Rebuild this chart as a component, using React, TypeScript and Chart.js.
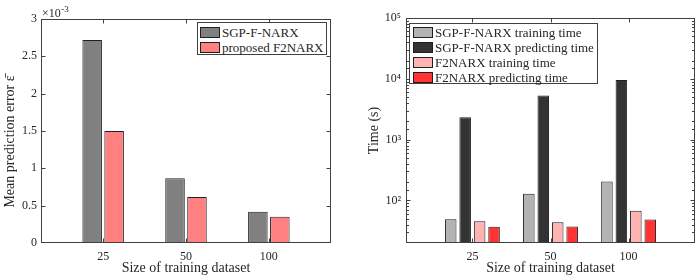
import React, { useEffect, useRef } from 'react';
import { Chart, registerables } from 'chart.js';

Chart.register(...registerables);

// ---------- data ----------
const categories = ['25', '50', '100'];

// left panel: mean prediction error
const errSGP = [0.00272, 0.000867, 0.00042];
const errF2 = [0.0015, 0.000617, 0.00035];
const errTickValues = [0, 0.0005, 0.001, 0.0015, 0.002, 0.0025, 0.003];
const errTickLabels = ['0', '0.5', '1', '1.5', '2', '2.5', '3'];

// right panel: time (s), log scale
const sgpTrain = [49, 129, 205];
const sgpPredict = [2330, 5300, 9600];
const f2Train = [45.5, 44, 68];
const f2Predict = [37, 37.3, 48.5];
const timeTickValues = [100, 1000, 10000, 100000];
const timeTickLabels = ['10²', '10³', '10⁴', '10⁵'];

const leftLegend = ['SGP-F-NARX', 'proposed F2NARX'];
const rightLegend = [
  'SGP-F-NARX training time',
  'SGP-F-NARX predicting time',
  'F2NARX training time',
  'F2NARX predicting time',
];

// ---------- style ----------
const FONT = '"Liberation Serif", "Times New Roman", serif';
const TEXT = '#262626';
const AXIS = '#404040';
const EDGE = '#1f1f1f';
const leftColors = ['#808080', '#ff8080'];
const rightColors = ['#b3b3b3', '#333333', '#ffb3b3', '#ff3333'];

const isPow10 = (v: number) => Math.abs(Math.log10(v) - Math.round(Math.log10(v))) < 1e-9;

const boxPlugin = {
  id: 'matlabBox',
  afterDraw(chart: any) {
    const { ctx, chartArea: a } = chart;
    const xs = chart.scales.x;
    const ys = chart.scales.y;
    const isLog = ys.type === 'logarithmic';
    const L = Math.round(a.left) + 0.5;
    const R = Math.round(a.right) - 0.5;
    const T = Math.round(a.top) + 0.5;
    const B = Math.round(a.bottom) - 0.5;
    ctx.save();
    ctx.strokeStyle = AXIS;
    ctx.lineWidth = 1;
    ctx.strokeRect(L, T, R - L, B - T);
    ctx.beginPath();
    xs.ticks.forEach((t: any) => {
      const px = Math.round(xs.getPixelForValue(t.value)) + 0.5;
      ctx.moveTo(px, B);
      ctx.lineTo(px, B - 4);
      ctx.moveTo(px, T);
      ctx.lineTo(px, T + 4);
    });
    ys.ticks.forEach((t: any) => {
      const py = Math.round(ys.getPixelForValue(t.value)) + 0.5;
      if (py < T - 0.1 || py > B + 0.1) return;
      const len = isLog && !isPow10(t.value) ? 2.5 : 4;
      ctx.moveTo(L, py);
      ctx.lineTo(L + len, py);
      ctx.moveTo(R, py);
      ctx.lineTo(R - len, py);
    });
    ctx.stroke();
    ctx.restore();
  },
};

const exponentPlugin = {
  id: 'exponentLabel',
  afterDraw(chart: any) {
    const { ctx, chartArea } = chart;
    ctx.save();
    ctx.fillStyle = TEXT;
    ctx.textBaseline = 'alphabetic';
    ctx.textAlign = 'left';
    ctx.font = `12px ${FONT}`;
    const x = chartArea.left + 1;
    const y = chartArea.top - 2;
    ctx.fillText('×10', x, y);
    const w = ctx.measureText('×10').width;
    ctx.font = `9px ${FONT}`;
    ctx.fillText('-3', x + w + 0.5, y - 5);
    ctx.restore();
  },
};

function makeXScale(min: number, max: number, titlePadBottom: number) {
  return {
    type: 'linear' as const,
    min,
    max,
    offset: false,
    grid: { display: false, drawTicks: false },
    border: { display: false },
    afterBuildTicks: (s: any) => {
      s.ticks = categories.map((_, i) => ({ value: i + 1 }));
    },
    afterFit: (s: any) => {
      s.height = 35;
    },
    ticks: {
      autoSkip: false,
      maxRotation: 0,
      padding: 7,
      color: TEXT,
      font: { family: FONT, size: 12 },
      callback: (v: any) => categories[Math.round(Number(v)) - 1] ?? '',
    },
    title: {
      display: true,
      text: 'Size of training dataset',
      color: TEXT,
      font: { family: FONT, size: 14 },
      padding: { top: 0, bottom: titlePadBottom },
    },
  };
}

function ErrorChart() {
  const ref = useRef<HTMLCanvasElement | null>(null);
  useEffect(() => {
    if (!ref.current) return;
    const chart = new Chart(ref.current, {
      type: 'bar',
      data: {
        datasets: [
          {
            label: leftLegend[0],
            data: errSGP.map((y, i) => ({ x: i + 1, y })),
            backgroundColor: leftColors[0],
            borderColor: EDGE,
            borderWidth: 1,
            borderSkipped: false,
          },
          {
            label: leftLegend[1],
            data: errF2.map((y, i) => ({ x: i + 1, y })),
            backgroundColor: leftColors[1],
            borderColor: EDGE,
            borderWidth: 1,
            borderSkipped: false,
          },
        ],
      },
      options: {
        responsive: false,
        animation: false,
        events: [],
        categoryPercentage: 0.53,
        barPercentage: 0.89,
        layout: { padding: { left: 0, top: 19, right: 19, bottom: 0 } },
        plugins: { legend: { display: false }, tooltip: { enabled: false } },
        scales: {
          x: makeXScale(0.25, 3.75, 1.6),
          y: {
            type: 'linear',
            min: 0,
            max: 0.003,
            grid: { display: false, drawTicks: false },
            border: { display: false },
            afterBuildTicks: (s: any) => {
              s.ticks = errTickValues.map((v) => ({ value: v }));
            },
            afterFit: (s: any) => {
              s.width = 41;
            },
            ticks: {
              autoSkip: false,
              padding: 4,
              color: TEXT,
              font: { family: FONT, size: 12 },
              callback: (v: any) => {
                const i = errTickValues.findIndex((t) => Math.abs(t - Number(v)) < 1e-9);
                return i >= 0 ? errTickLabels[i] : '';
              },
            },
            title: {
              display: true,
              text: 'Mean prediction error ε̄\u2002\u2002\u2002',
              color: TEXT,
              font: { family: FONT, size: 14 },
              padding: { top: 1.6, bottom: 0 },
            },
          },
        },
      } as any,
      plugins: [boxPlugin, exponentPlugin],
    });
    return () => chart.destroy();
  }, []);
  return <canvas ref={ref} width={350} height={278} />;
}

function TimeChart() {
  const ref = useRef<HTMLCanvasElement | null>(null);
  useEffect(() => {
    if (!ref.current) return;
    const series = [sgpTrain, sgpPredict, f2Train, f2Predict];
    const chart = new Chart(ref.current, {
      type: 'bar',
      data: {
        datasets: series.map((vals, k) => ({
          label: rightLegend[k],
          data: vals.map((y, i) => ({ x: i + 1, y })),
          backgroundColor: rightColors[k],
          borderColor: EDGE,
          borderWidth: 1,
          borderSkipped: false,
        })),
      },
      options: {
        responsive: false,
        animation: false,
        events: [],
        categoryPercentage: 0.74,
        barPercentage: 0.8,
        layout: { padding: { left: 0, top: 18, right: 5, bottom: 0 } },
        plugins: { legend: { display: false }, tooltip: { enabled: false } },
        scales: {
          x: makeXScale(0.15, 3.85, 1.6),
          y: {
            type: 'logarithmic',
            min: 20,
            max: 100000,
            grid: { display: false, drawTicks: false },
            border: { display: false },
            afterFit: (s: any) => {
              s.width = 56;
            },
            ticks: {
              autoSkip: false,
              padding: 5,
              color: TEXT,
              font: { family: FONT, size: 12 },
              callback: (v: any) => {
                const i = timeTickValues.findIndex((t) => Math.abs(t - Number(v)) < 1e-6);
                return i >= 0 ? timeTickLabels[i] : '';
              },
            },
            title: {
              display: true,
              text: 'Time (s)',
              color: TEXT,
              font: { family: FONT, size: 14 },
              padding: { top: 15.6, bottom: 0 },
            },
          },
        },
      } as any,
      plugins: [boxPlugin],
    });
    return () => chart.destroy();
  }, []);
  return <canvas ref={ref} width={350} height={278} />;
}

function Legend(props: {
  labels: string[];
  colors: string[];
  left: number;
  top: number;
  width: number;
  height: number;
  swLeft: number;
  swTop: number;
  textLeft: number;
}) {
  const { labels, colors, left, top, width, height, swLeft, swTop, textLeft } = props;
  return (
    <div
      style={{
        position: 'absolute',
        left,
        top,
        width,
        height,
        boxSizing: 'border-box',
        border: `1px solid ${AXIS}`,
        background: '#fff',
      }}
    >
      {labels.map((lab, i) => (
        <React.Fragment key={lab}>
          <div
            style={{
              position: 'absolute',
              left: swLeft - 1,
              top: swTop - 1 + i * 15,
              width: 20,
              height: 11,
              boxSizing: 'border-box',
              border: `1px solid ${EDGE}`,
              background: colors[i],
            }}
          />
          <div
            style={{
              position: 'absolute',
              left: textLeft - 1,
              top: swTop - 1 + i * 15 - 2,
              height: 15,
              lineHeight: '15px',
              fontFamily: FONT,
              fontSize: 13,
              color: TEXT,
              whiteSpace: 'nowrap',
            }}
          >
            {lab}
          </div>
        </React.Fragment>
      ))}
    </div>
  );
}

export default function App() {
  return (
    <div
      style={{
        position: 'fixed',
        left: 0,
        top: 0,
        width: 700,
        height: 278,
        background: '#fff',
        overflow: 'hidden',
      }}
    >
      <div style={{ position: 'absolute', left: 0, top: 0, width: 350, height: 278 }}>
        <ErrorChart />
      </div>
      <div style={{ position: 'absolute', left: 350, top: 0, width: 350, height: 278 }}>
        <TimeChart />
      </div>
      <Legend
        labels={leftLegend}
        colors={leftColors}
        left={197}
        top={22}
        width={130}
        height={33}
        swLeft={3}
        swTop={5}
        textLeft={25}
      />
      <Legend
        labels={rightLegend}
        colors={rightColors}
        left={409}
        top={23}
        width={189}
        height={61}
        swLeft={4}
        swTop={4}
        textLeft={26}
      />
    </div>
  );
}
